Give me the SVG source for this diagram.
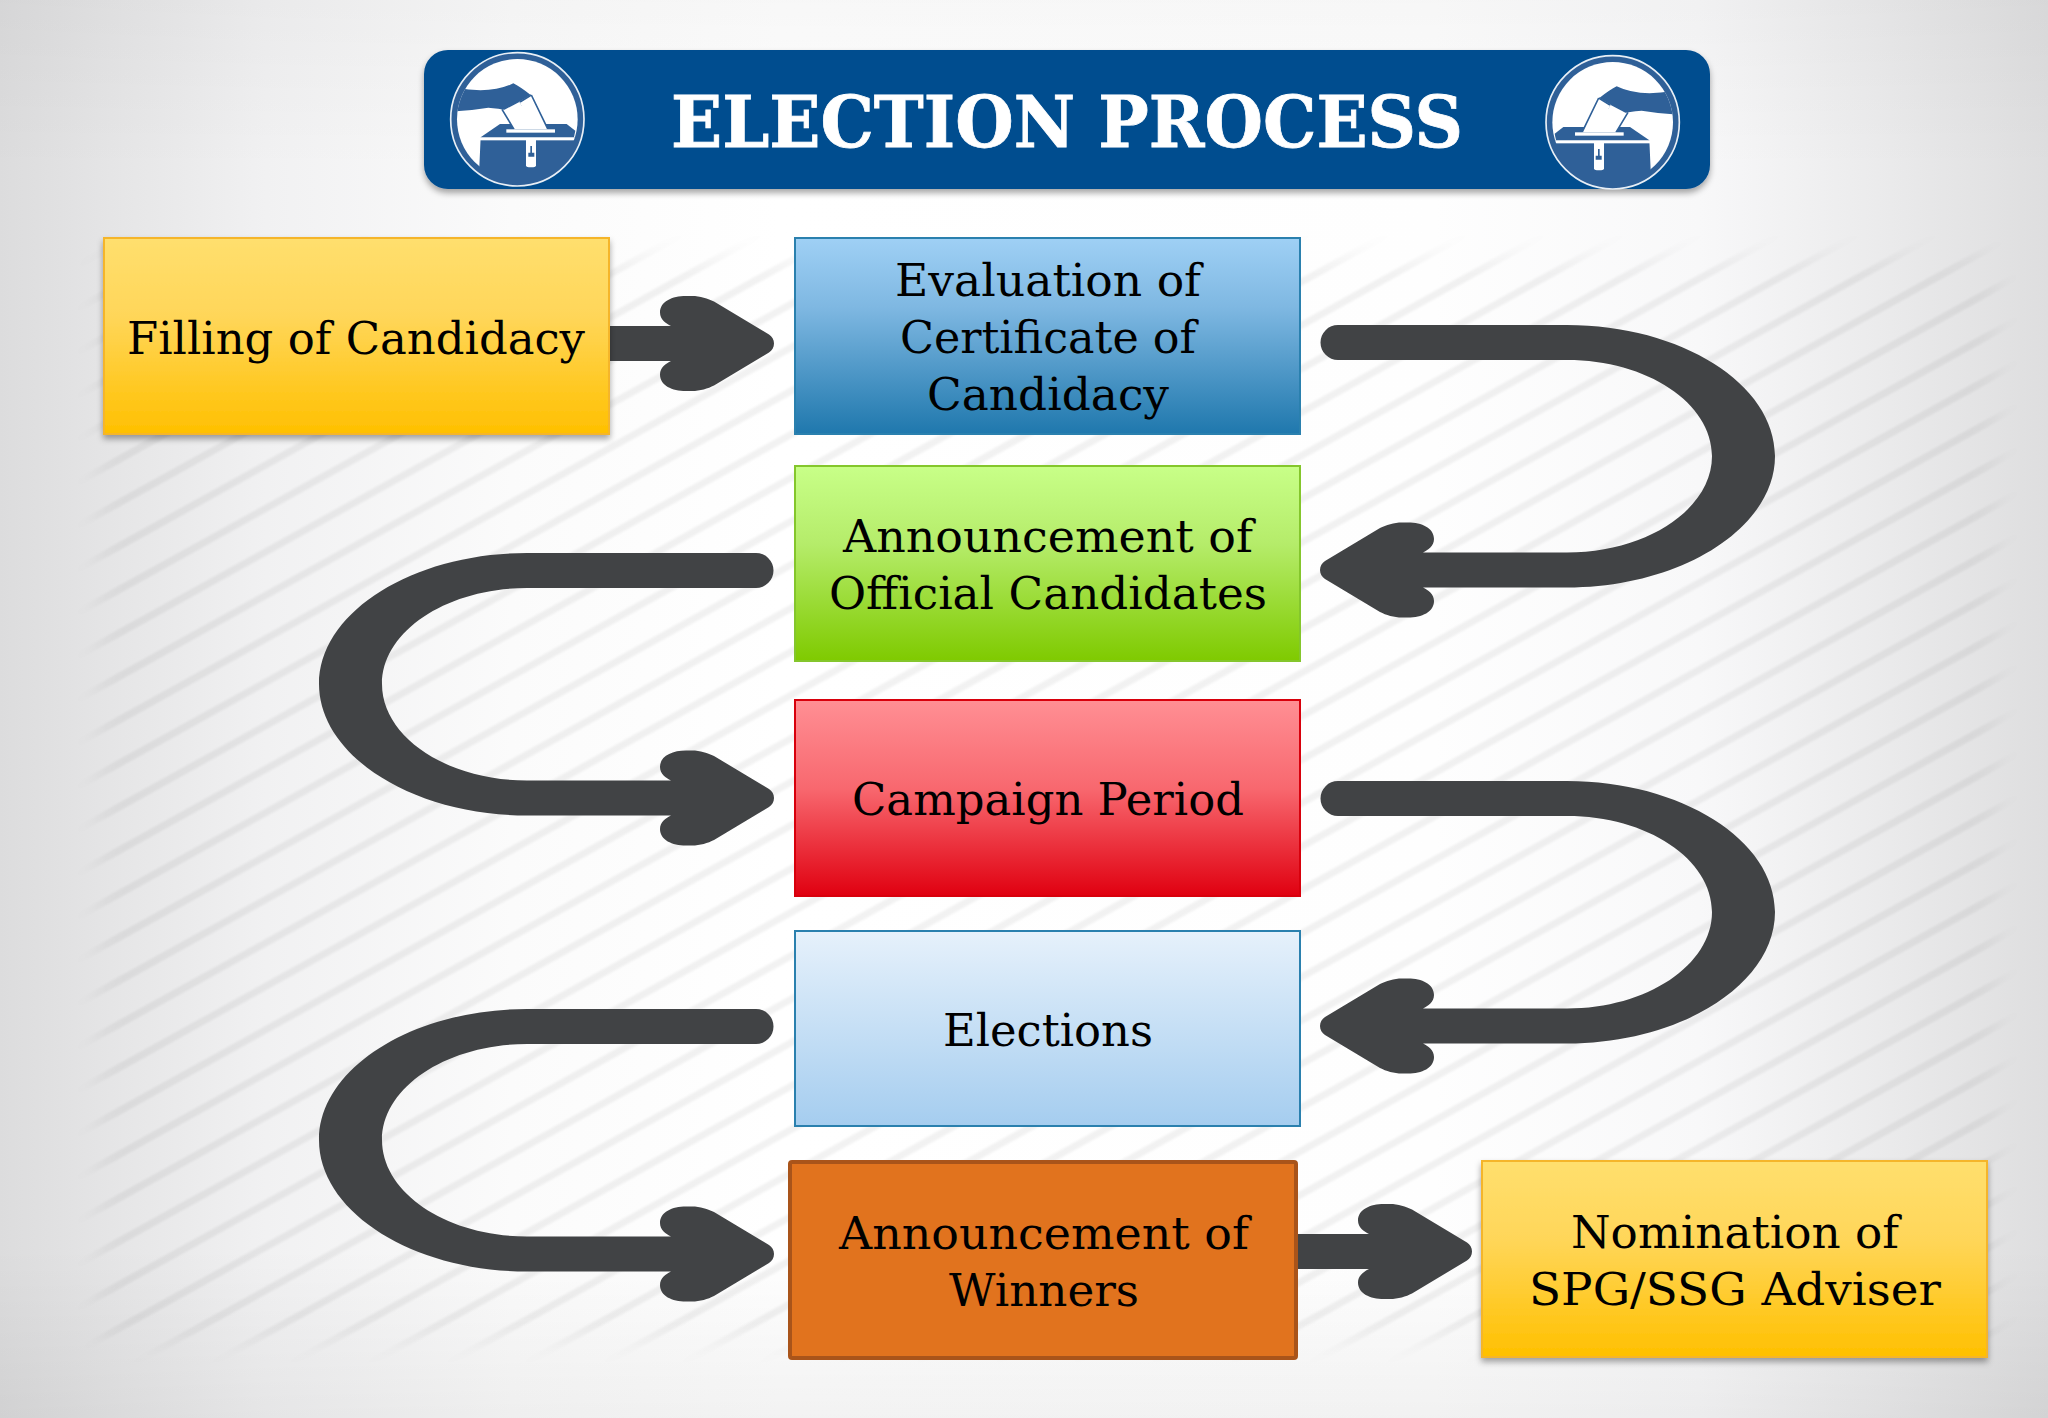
<svg xmlns="http://www.w3.org/2000/svg" width="2048" height="1418" viewBox="0 0 2048 1418">
<defs>
<linearGradient id="bgh" x1="0" y1="0" x2="1" y2="0">
<stop offset="0" stop-color="#dcdcdd"/><stop offset="0.06" stop-color="#e6e6e7"/><stop offset="0.13" stop-color="#f1f1f2"/><stop offset="0.25" stop-color="#fbfbfb"/><stop offset="0.38" stop-color="#ffffff"/><stop offset="0.7" stop-color="#fefefe"/><stop offset="0.83" stop-color="#f8f8f9"/><stop offset="0.93" stop-color="#e9e9ea"/><stop offset="1" stop-color="#dededf"/>
</linearGradient>
<linearGradient id="bgv" x1="0" y1="0" x2="0" y2="1">
<stop offset="0" stop-color="#000" stop-opacity="0.03"/><stop offset="0.12" stop-color="#000" stop-opacity="0"/><stop offset="0.88" stop-color="#000" stop-opacity="0"/><stop offset="1" stop-color="#000" stop-opacity="0.05"/>
</linearGradient>
<pattern id="st" width="60" height="38" patternUnits="userSpaceOnUse" patternTransform="rotate(-29)">
<rect y="0" width="60" height="7" fill="#000" fill-opacity="0.05"/>
</pattern>
<filter id="soft" x="-5%" y="-5%" width="110%" height="110%"><feGaussianBlur stdDeviation="1.300"/></filter>
<filter id="mb" x="-5%" y="-5%" width="110%" height="110%"><feGaussianBlur stdDeviation="13"/></filter>
<mask id="m" maskUnits="userSpaceOnUse" x="0" y="0" width="2048" height="1418"><rect x="100" y="258" width="1895" height="1082" fill="#fff" filter="url(#mb)"/></mask>
<linearGradient id="yel" x1="0" y1="0" x2="0" y2="1"><stop offset="0" stop-color="#ffdf6e"/><stop offset="0.4" stop-color="#ffd659"/><stop offset="1" stop-color="#ffc000"/></linearGradient>
<linearGradient id="blu" x1="0" y1="0" x2="0" y2="1"><stop offset="0" stop-color="#9fd0f5"/><stop offset="0.35" stop-color="#7fb8e2"/><stop offset="1" stop-color="#1f78ad"/></linearGradient>
<linearGradient id="gre" x1="0" y1="0" x2="0" y2="1"><stop offset="0" stop-color="#c8ff88"/><stop offset="0.4" stop-color="#b5ec6a"/><stop offset="1" stop-color="#7fca00"/></linearGradient>
<linearGradient id="red" x1="0" y1="0" x2="0" y2="1"><stop offset="0" stop-color="#ff8f94"/><stop offset="0.45" stop-color="#f8686f"/><stop offset="1" stop-color="#e00010"/></linearGradient>
<linearGradient id="lb" x1="0" y1="0" x2="0" y2="1"><stop offset="0" stop-color="#e6f1fb"/><stop offset="1" stop-color="#a5cdef"/></linearGradient>
<filter id="sh" x="-5%" y="-5%" width="110%" height="115%"><feDropShadow dx="0" dy="4" stdDeviation="3" flood-color="#000" flood-opacity="0.35"/></filter>
<clipPath id="disc"><circle cx="292" cy="238" r="181"/></clipPath>
<g id="icon">
<circle cx="292" cy="238" r="200" fill="#2f6098" stroke="#e8eff6" stroke-width="5"/>
<g clip-path="url(#disc)">
<path d="M90 40H490V292H182L178 382L150 440H90Z" fill="#fff"/>
<path d="M182 292L240 252H440L466 272L462 292Z" fill="#2f6098"/>
<path d="M90 140Q210 165 280 130Q300 140 332 165L298 185L310 208L292 218Q240 205 205 203Q150 212 90 215Z" fill="#2f6098"/>
<path d="M248 212L298 186L312 208L292 219L332 163L384 268H282Z" fill="#fff"/>
<path d="M246 208L282 268M334 165L384 268M300 186L334 165" stroke="#2f6098" stroke-width="5" fill="none"/>
<rect x="259" y="268" width="146" height="10" fill="#fff"/>
<rect x="175" y="292" width="290" height="9" fill="#fff"/>
<path d="M318 300H348V376Q348 382 340 382H326Q318 382 318 376Z" fill="#fff"/>
<path d="M331 318H336V338H343V350H325V338H331Z" fill="#2f6098"/>
</g>
</g>
<path id="uarrow" d="M1338 325H1567C1681 325 1775 384 1775 456C1775 528 1681 587.500 1567 587.500H1423C1428 590 1434 594 1434 601C1434 612 1422 617.500 1408 617.500H1402C1394 617.500 1386 615 1380 612L1325 579C1322 577 1320 574 1320 570C1320 566 1322 563 1325 561L1380 528C1386 525 1394 522.500 1402 522.500H1408C1422 522.500 1434 528 1434 539C1434 546 1428 550 1423 552.500H1567C1647 552.500 1712 509 1712 456C1712 403 1647 360 1567 360H1338A17.500 17.500 0 0 1 1338 325Z" fill="#414345"/>
<path id="head" d="M-103 -17.500C-108 -20 -114 -24 -114 -31C-114 -42 -102 -47.500 -88 -47.500H-82C-74 -47.500 -66 -45 -60 -42L-5 -9C-2 -7 0 -4 0 0C0 4 -2 7 -5 9L-60 42C-66 45 -74 47.500 -82 47.500H-88C-102 47.500 -114 42 -114 31C-114 24 -108 20 -103 17.500Z" fill="#414345"/>
</defs>
<style>
.t{font-family:"DejaVu Serif","Liberation Serif",serif;font-size:45px;fill:#000;text-anchor:middle}
.n{stroke-width:2}
</style>
<rect width="2048" height="1418" fill="url(#bgh)"/>
<rect width="2048" height="1418" fill="url(#bgv)"/>
<g mask="url(#m)"><rect x="60" y="220" width="1980" height="1160" fill="url(#st)" filter="url(#soft)"/></g>

<g id="connectors">
<rect x="609" y="326" width="80" height="35" fill="#414345"/>
<use href="#head" transform="translate(774,343.500)"/>
<use href="#uarrow"/>
<use href="#uarrow" transform="translate(2094,228) scale(-1,1)"/>
<use href="#uarrow" transform="translate(0,456)"/>
<use href="#uarrow" transform="translate(2094,684) scale(-1,1)"/>
<rect x="1297" y="1234" width="90" height="35" fill="#414345"/>
<use href="#head" transform="translate(1472,1251.500)"/>
</g>

<g id="title">
<rect x="424" y="50" width="1286" height="139" rx="24" fill="#054d8f" filter="url(#sh)"/>
<use href="#icon" transform="translate(420,40) scale(.3333)"/>
<use href="#icon" transform="translate(1710,43) scale(-.3333,.3333)"/>
<text x="1067" y="147" font-family="DejaVu Serif,Liberation Serif,serif" font-weight="700" font-size="71" fill="#fff" stroke="#fff" stroke-width="0.800" text-anchor="middle" textLength="792" lengthAdjust="spacingAndGlyphs">ELECTION PROCESS</text>
</g>
<g id="n1"><rect class="n" x="104" y="238" width="505" height="196" fill="url(#yel)" stroke="#f5b52a" filter="url(#sh)"/><text class="t" x="356" y="354" textLength="458" lengthAdjust="spacingAndGlyphs">Filling of Candidacy</text></g>
<g id="n2"><rect class="n" x="795" y="238" width="505" height="196" fill="url(#blu)" stroke="#2a80ae"/><text class="t" x="1048" y="296" textLength="306" lengthAdjust="spacingAndGlyphs">Evaluation of</text><text class="t" x="1048" y="353" textLength="296" lengthAdjust="spacingAndGlyphs">Certificate of</text><text class="t" x="1048" y="410" textLength="242" lengthAdjust="spacingAndGlyphs">Candidacy</text></g>
<g id="n3"><rect class="n" x="795" y="466" width="505" height="195" fill="url(#gre)" stroke="#84c62c"/><text class="t" x="1048" y="552" textLength="410" lengthAdjust="spacingAndGlyphs">Announcement of</text><text class="t" x="1048" y="609" textLength="438" lengthAdjust="spacingAndGlyphs">Official Candidates</text></g>
<g id="n4"><rect class="n" x="795" y="700" width="505" height="196" fill="url(#red)" stroke="#d8000c"/><text class="t" x="1048" y="815" textLength="392" lengthAdjust="spacingAndGlyphs">Campaign Period</text></g>
<g id="n5"><rect class="n" x="795" y="931" width="505" height="195" fill="url(#lb)" stroke="#2a80ae"/><text class="t" x="1048" y="1046" textLength="210" lengthAdjust="spacingAndGlyphs">Elections</text></g>
<g id="n6"><rect x="790" y="1162" width="506" height="196" rx="2" fill="#e1731e" stroke="#a9541a" stroke-width="4"/><text class="t" x="1044" y="1249" textLength="410" lengthAdjust="spacingAndGlyphs">Announcement of</text><text class="t" x="1044" y="1306" textLength="190" lengthAdjust="spacingAndGlyphs">Winners</text></g>
<g id="n7"><rect class="n" x="1482" y="1161" width="505" height="196" fill="url(#yel)" stroke="#f5b52a" filter="url(#sh)"/><text class="t" x="1735" y="1248" textLength="328" lengthAdjust="spacingAndGlyphs">Nomination of</text><text class="t" x="1735" y="1305" textLength="412" lengthAdjust="spacingAndGlyphs">SPG/SSG Adviser</text></g>
</svg>
